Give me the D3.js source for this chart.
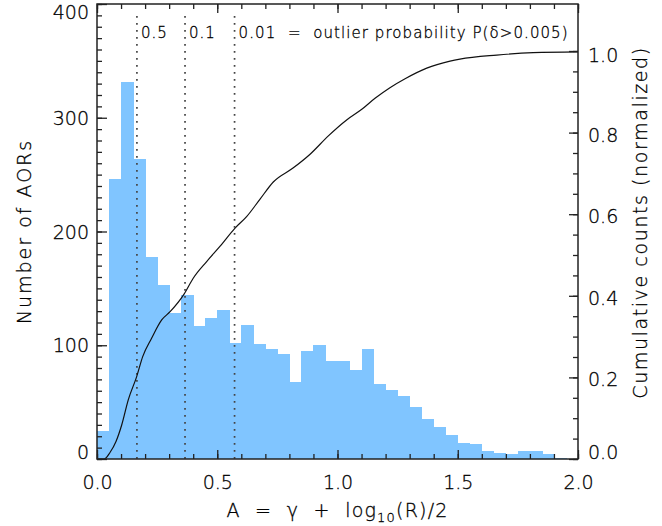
<!DOCTYPE html>
<html><head><meta charset="utf-8">
<script src="https://cdn.jsdelivr.net/npm/d3@7/dist/d3.min.js"></script>
<style>
html,body{margin:0;padding:0;background:#fff;}
svg{display:block;}
text{font-family:"DejaVu Sans","Liberation Sans",sans-serif;font-weight:200;fill:#000;stroke:#000;stroke-width:0.3px;}
</style></head>
<body>
<svg id="chart" width="662" height="526"></svg>
<script>
// ---- data ----
const binStarts = d3.range(0, 2.0, 0.05).map(v => +v.toFixed(2));
const counts = [25,246,331,264,178,153,128,144,117,124,
                131,102,118,101,97,92,68,95,100,86,
                86,78,97,66,61,55,46,35,28,21,
                14,13,7,5,4,7,7,4,1,0];
const binWidth = 0.05;
const cumX = [0.0,0.03,0.054,0.079,0.103,0.130,0.165,0.190,0.227,0.269,0.304,0.362,0.400,0.456,0.511,0.574,0.622,0.678,0.733,0.815,0.886,0.962,1.038,1.101,1.156,1.218,1.281,1.371,1.468,1.509,1.662,1.814,2.0];
const cumY = [0.0,0.0,0.016,0.043,0.084,0.145,0.202,0.251,0.296,0.341,0.361,0.404,0.443,0.484,0.521,0.566,0.594,0.637,0.679,0.713,0.747,0.792,0.831,0.857,0.884,0.910,0.932,0.958,0.975,0.980,0.990,0.996,0.998];
const probLines = [0.166, 0.366, 0.572];
const probLabels = ["0.5", "0.1", "0.01"];
const xTicks = [0, 0.5, 1.0, 1.5, 2.0];
const yLTicks = [0, 100, 200, 300, 400];
const yRTicks = [0, 0.2, 0.4, 0.6, 0.8, 1.0];

// ---- layout ----
const L = 97, R = 578, T = 4, B = 459;
const svg = d3.select("#chart");
const x = d3.scaleLinear().domain([0, 2]).range([L, R]);
const yL = d3.scaleLinear().domain([0, 400]).range([B, T]);
const yR = d3.scaleLinear().domain([0, 1.1152]).range([B, T]);
const barColor = "#80c5ff";

// bars
svg.append("g").attr("shape-rendering", "crispEdges")
  .selectAll("rect").data(binStarts).join("rect")
  .attr("x", (d) => x(d))
  .attr("width", (d) => x(d + binWidth) - x(d) + 0.6)
  .attr("y", (d, i) => yL(counts[i]))
  .attr("height", (d, i) => yL(0) - yL(counts[i]))
  .attr("fill", barColor);

// dotted lines
svg.append("g").selectAll("line").data(probLines).join("line")
  .attr("x1", d => x(d)).attr("x2", d => x(d))
  .attr("y1", 16).attr("y2", B)
  .attr("stroke", "#444").attr("stroke-width", 1.7)
  .attr("stroke-dasharray", "1.7,5.3");

// cumulative curve
const line = d3.line().x((d, i) => x(cumX[i])).y(d => yR(d)).curve(d3.curveMonotoneX);
svg.append("path").datum(cumY).attr("d", line)
  .attr("fill", "none").attr("stroke", "#111").attr("stroke-width", 1.2);

// axes
const axCol = "#222";
function styleAxis(g) {
  g.select(".domain").remove();
  g.selectAll("line").attr("stroke", axCol).attr("stroke-width", 1.3);
  g.selectAll("text").attr("font-size", 19).attr("fill", "#000")
    .style("font-family", '"DejaVu Sans","Liberation Sans",sans-serif');
}
// bottom
svg.append("g").attr("transform", `translate(0,${B})`)
  .call(d3.axisBottom(x).tickValues(d3.range(0, 2.01, 0.1)).tickSize(-5).tickFormat(""))
  .call(styleAxis);
svg.append("g").attr("transform", `translate(0,${B})`)
  .call(d3.axisBottom(x).tickValues(xTicks).tickSize(-9).tickPadding(17).tickFormat(d3.format(".1f")))
  .call(styleAxis);
// top
svg.append("g").attr("transform", `translate(0,${T})`)
  .call(d3.axisTop(x).tickValues(d3.range(0, 2.01, 0.1)).tickSize(-5).tickFormat(""))
  .call(styleAxis);
svg.append("g").attr("transform", `translate(0,${T})`)
  .call(d3.axisTop(x).tickValues(xTicks).tickSize(-9).tickFormat(""))
  .call(styleAxis);
// left
svg.append("g").attr("transform", `translate(${L},0)`)
  .call(d3.axisLeft(yL).tickValues(d3.range(0, 401, 10)).tickSize(-5).tickFormat(""))
  .call(styleAxis);
const gl = svg.append("g").attr("transform", `translate(${L},0)`)
  .call(d3.axisLeft(yL).tickValues(yLTicks).tickSize(-10).tickPadding(8).tickFormat(d3.format("d")))
  .call(styleAxis);
gl.selectAll(".tick text").attr("dy", d => d === 0 ? "-0.05em" : d === 400 ? "0.75em" : "0.35em");
// right
svg.append("g").attr("transform", `translate(${R},0)`)
  .call(d3.axisRight(yR).tickValues(d3.range(0, 1.0001, 0.05)).tickSize(-5).tickFormat(""))
  .call(styleAxis);
const gr = svg.append("g").attr("transform", `translate(${R},0)`)
  .call(d3.axisRight(yR).tickValues(yRTicks).tickSize(-9).tickPadding(10).tickFormat(d3.format(".1f")))
  .call(styleAxis);
gr.selectAll(".tick text").attr("dy", d => d === 0 ? "-0.05em" : d === 1 ? "0.55em" : "0.45em");

// frame
svg.append("rect").attr("x", L).attr("y", T).attr("width", R - L).attr("height", B - T)
  .attr("fill", "none").attr("stroke", axCol).attr("stroke-width", 1.5);

// annotations
const ann = svg.append("g").attr("font-size", 15);
probLabels.forEach((t, i) => {
  if (i < 2) {
    ann.append("text").attr("x", x(probLines[i]) + 4).attr("y", 38).text(t)
      .style("letter-spacing", "1px");
  }
});
ann.append("text").attr("x", x(probLines[2]) + 4).attr("y", 38)
  .attr("xml:space", "preserve")
  .attr("textLength", 329).attr("lengthAdjust", "spacing")
  .text(probLabels[2] + "  =  outlier probability P(δ>0.005)");

// axis titles
const xt = svg.append("text").attr("x", (L + R) / 2).attr("y", 517)
  .attr("text-anchor", "middle").attr("font-size", 19).attr("xml:space", "preserve")
  .style("letter-spacing", "1.2px");
xt.append("tspan").text("A  =  γ  +  log");
xt.append("tspan").attr("font-size", 13).attr("dy", 5).text("10");
xt.append("tspan").attr("dy", -5).text("(R)/2");

svg.append("text").attr("transform", `translate(31,${(T + B) / 2}) rotate(-90)`)
  .attr("text-anchor", "middle").attr("font-size", 19)
  .style("letter-spacing", "2px").text("Number of AORs");

svg.append("text").attr("transform", `translate(647,${(T + B) / 2 - 9}) rotate(-90)`)
  .attr("text-anchor", "middle").attr("font-size", 19)
  .style("letter-spacing", "1.6px").text("Cumulative counts (normalized)");
</script>
</body></html>
